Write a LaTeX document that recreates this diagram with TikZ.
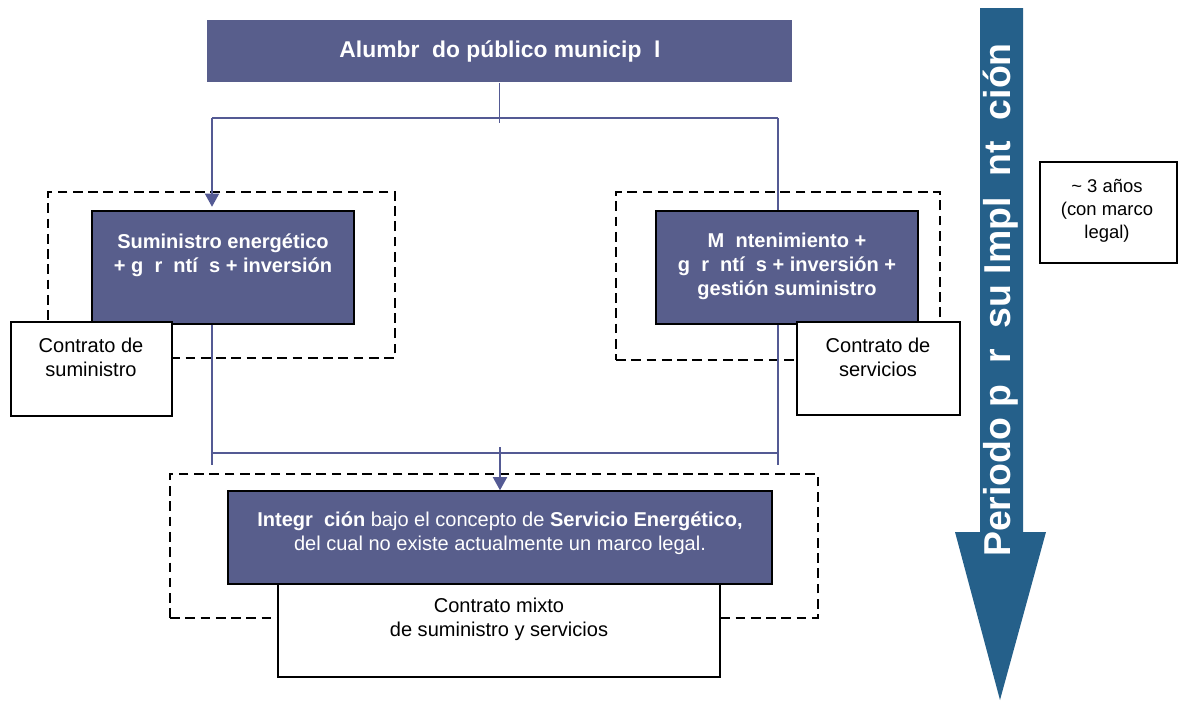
\documentclass[tikz,border=0pt]{standalone}
\usepackage{fontspec}
\setmainfont{Liberation Sans}
\usepackage{xcolor}
\usetikzlibrary{
  arrows.meta,
  positioning,
  fit
}
\definecolor{caja}{RGB}{88,94,140}
\definecolor{flecha}{RGB}{37,96,138}
\definecolor{linea}{RGB}{84,90,148}
\newcommand{\hueco}{\phantom{a}}

\tikzset{
  azul/.style={draw=black, line width=0.8pt, fill=caja, inner sep=0pt},
  blanca/.style={draw=black, line width=0.9pt, fill=white, inner sep=0pt},
  marco/.style={draw=black, line width=1.3pt, dash pattern=on 5.5pt off 3.2pt, inner sep=0pt},
  texto/.style={align=center, inner sep=0pt, font=\fontsize{11.4}{13.6}\selectfont},
  textoazul/.style={texto, text=white, font=\bfseries\fontsize{11.4}{13.6}\selectfont},
  enlace/.style={draw=linea, line width=1pt},
  punta/.style={-{Triangle[width=8pt,length=7.5pt]}}
}

\begin{document}
\begin{tikzpicture}[x=0.02cm, y=-0.02cm]
  \useasboundingbox (0,0) rectangle (1178,703);
  \def\Xl{212};
  \def\Xr{778};
  \def\Xc{500};
  \def\Ya{118};
  \def\Yb{453};
  \def\Yf{465};
        \node[marco, fit={(48,192) (395,358)}] (marcoSum) {};
        \node[marco, fit={(616,192) (940,360)}] (marcoServ) {};
        \node[marco, fit={(170,474) (818,618)}] (marcoMixto) {};

        \node[azul, draw=none, fit={(207,20) (792,82)}] (alumbrado) {};
        \node[texto, text=white, font=\bfseries\fontsize{13}{15}\selectfont] (alumbradoT) at (\Xc, 51)
          {Alumbr\hueco do público municip\hueco l};

        \coordinate (splitL) at (\Xl, \Ya);
        \coordinate (splitR) at (\Xr, \Ya);
        \coordinate (joinL) at (\Xl, \Yb);
        \coordinate (joinR) at (\Xr, \Yb);
        \coordinate (endL) at (\Xl, \Yf);
        \coordinate (endR) at (\Xr, \Yf);
        \coordinate (joinC) at (\Xc, 447);

        \node[azul, fit={(92,211) (354,324)}] (suministro) {};
        \node[azul, fit={(656,211) (918,324)}] (servicios) {};
        \node[azul, fit={(228,491) (772,584)}] (integracion) {};

	\draw[enlace] (alumbrado.south) -- ++(0, 40);
	\draw[enlace] (splitL) -- (splitR);
	\draw[enlace, punta, shorten >=2pt] (splitL) -- (splitL |- suministro.north);
	\draw[enlace] (splitR) -- (splitR |- servicios.north);
	\draw[enlace] (splitL |- suministro.south) -- (endL);
	\draw[enlace] (splitR |- servicios.south) -- (endR);
	\draw[enlace] (joinL) -- (joinR);
	\draw[enlace, punta] (joinC) -- (integracion.north);

        \node[textoazul] (suministroT) at (223, 255)
          {Suministro energético\\+ g\hueco r\hueco ntí\hueco s + inversión};
        \node[textoazul] (serviciosT) at (787, 266)
          {M\hueco ntenimiento +\\g\hueco r\hueco ntí\hueco s + inversión +\\gestión suministro};
        \node[texto, text=white] (integracionT) at (\Xc, 533)
          {\textbf{Integr\hueco ción} bajo el concepto de \textbf{Servicio Energético,}\\del cual no existe actualmente un marco legal.};

        \node[blanca, fit={(11,322) (172,416)}] (contratoSum) {};
        \node[texto] (contratoSumT) at (91, 357) {Contrato de\\suministro};
        \node[blanca, fit={(797,322) (960,415)}] (contratoServ) {};
        \node[texto] (contratoServT) at (878, 357) {Contrato de\\servicios};
        \node[blanca, fit={(278,584) (720,677)}] (contratoMixto) {};
        \node[texto] (contratoMixtoT) at (499, 619) {Contrato mixto\\de suministro y servicios};

	\fill[flecha] (980,8) -- (1023,8) -- (1023,532) -- (1046,532) -- (1000,700)
	  -- (955,532) -- (980,532) -- cycle;
        \node[rotate=90, text=white, inner sep=0pt, font=\bfseries\fontsize{21.3}{25}\selectfont] (periodo) at (1001, 300)
          {Periodo p\hueco r\hueco su Impl\hueco nt\hueco ción};

        \node[blanca, fit={(1040,162) (1177,263)}] (plazo) {};
        \node[texto, font=\fontsize{10.5}{13}\selectfont] (plazoT) at (1107, 211) {\textasciitilde\ 3 años\\(con marco\\legal)};
\end{tikzpicture}
\end{document}
